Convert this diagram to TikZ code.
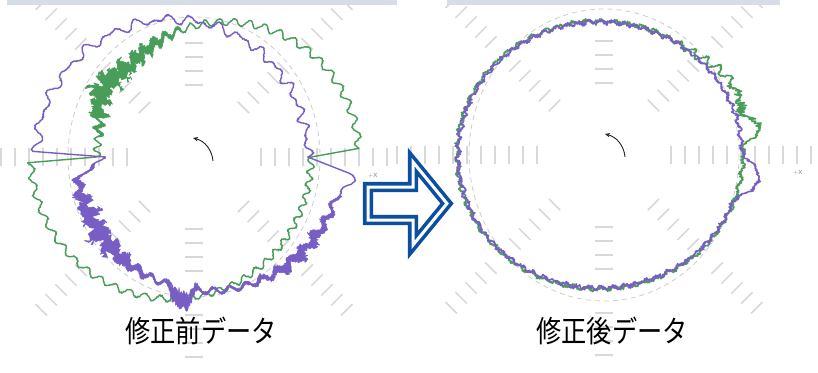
\documentclass[tikz,border=0pt]{standalone}
\usepackage{fontspec}
\usepackage{graphicx}
\newfontfamily\jpfont{Noto Sans CJK JP}
\usetikzlibrary{arrows.meta}
\definecolor{gcurve}{RGB}{72,158,88}
\definecolor{pcurve}{RGB}{120,94,196}
\definecolor{barc}{RGB}{214,221,231}
\definecolor{arrowblue}{RGB}{12,78,160}
\definecolor{tickc}{RGB}{216,216,216}
\tikzset{
  declare function={
    bump(\a,\c,\w)=max(0,1-((\a-\c)/\w)^2)^2;
    burst(\t)=0.7+0.3*sin(mod(\t,9)*40);
    gUc(\t)=131+34*cos(\t)+10*bump(\t,145,20)+3.5*sin(mod(\t,6)*60);
    gU(\t)=gUc(\t)+rand*(0.8+5*bump(\t,130,36));
    gW(\t)=2+16*bump(\t,140,30)*burst(\t)+5*bump(\t,112,16);
    gD(\t)=140-23*cos(\t)+3*sin(mod(\t,6)*60)+rand*0.8;
    pU(\t)=136-22*cos(\t)+3*sin(mod(\t,11)*360/11)+2.5*sin(mod(\t,7)*360/7)+rand*0.8;
    pDc(\t)=133+15*cos(\t)-26*bump(\t,180,12)+14*bump(\t,265,6)+12*bump(\t,352,8)+3*sin(mod(\t,7)*360/7);
    pD(\t)=pDc(\t)+rand*(0.8+4*bump(\t,222,40)+3*bump(\t,312,30));
    pW(\t)=2+14*bump(\t,218,36)*burst(\t)+9*bump(\t,265,9)+7*bump(\t,318,28)*burst(\t);
    baseR(\t)=138.5-4*cos(\t)+4.5*cos(2*\t);
    gR(\t)=baseR(\t)+9*bump(\t,28,22)+19*bump(\t,10,7)+(1.4+3.5*bump(\t,40,25))*sin(mod(\t,6)*60)+rand*(1.6+4*bump(\t,18,14));
    pR(\t)=baseR(\t)-1+19*bump(\t,-9,11)+1.4*sin(mod(\t,5)*72)+rand*1.8;
  },
  tickmark/.style={draw=tickc, line width=1.5pt},
  refcircle/.style={draw=gray!40, line width=0.8pt, dash pattern=on 5pt off 4pt},
  gline/.style={draw=gcurve, line width=1.4pt, line join=round},
  pline/.style={draw=pcurve, line width=1.4pt, line join=round},
  gband/.style={fill=gcurve, draw=gcurve, line width=0.6pt, line join=round},
  pband/.style={fill=pcurve, draw=pcurve, line width=0.6pt, line join=round},
  rotarrow/.style={draw=black!85, line width=0.9pt, -{Stealth[length=5pt,width=4.5pt]}},
  topbar/.style={fill=barc, draw=none},
  label/.style={font=\jpfont\fontsize{30}{30}\selectfont, inner sep=0pt},
  axislabel/.style={font=\sffamily\fontsize{6}{6}\selectfont, text=gray, inner sep=0pt},
  blockarrow/.style={draw=arrowblue, line width=3.6pt, double=white, double distance=3pt, line join=miter},
}
\begin{document}
\begin{tikzpicture}[x=1pt, y=-1pt]
\useasboundingbox (0,0) rectangle (818,372);
\fill[white] (0,0) rectangle (818,372);
\pgfmathsetseed{7}

% ---------- left polar plot ----------
\begin{scope}[shift={(194,157)}]
  \foreach \a in {0,180}
    \foreach \r in {67,81,...,193}
      \draw[tickmark] (\a:\r) ++(\a+90:9) -- ++(\a-90:18);
  \foreach \a in {90,270}
    \foreach \r in {72,86,100,114,158,172,186,200}
      \draw[tickmark] (\a:\r) ++(\a+90:9) -- ++(\a-90:18);
  \foreach \a in {45,135,225,315}
    \foreach \r in {70,84,98,112,126,160,174,188,202,216}
      \draw[tickmark] (\a:\r) ++(\a+90:8) -- ++(\a-90:16);
  \draw[refcircle] (0,0) ellipse [x radius=126, y radius=140];
  % green trace
  \draw[gline] plot[domain=3:180, samples=709, variable=\t] ({-\t}:{gU(\t)})
            -- plot[domain=182:360, samples=713, variable=\t] ({-\t}:{gD(\t)}) -- cycle;
  \filldraw[gband] plot[domain=96:168, samples=217, variable=\t] ({-\t}:{gUc(\t)+gW(\t)*(0.3+0.7*rnd)})
            -- plot[domain=168:96, samples=217, variable=\t] ({-\t}:{gUc(\t)-gW(\t)*(0.3+0.7*rnd)}) -- cycle;
  % purple trace
  \draw[pline] plot[domain=0:178, samples=713, variable=\t] ({-\t}:{pU(\t)})
            -- plot[domain=180:354, samples=697, variable=\t] ({-\t}:{pD(\t)}) -- cycle;
  \filldraw[pband] plot[domain=184:345, samples=484, variable=\t] ({-\t}:{pDc(\t)+pW(\t)*(0.3+0.7*rnd)})
            -- plot[domain=345:184, samples=484, variable=\t] ({-\t}:{pDc(\t)-pW(\t)*(0.3+0.7*rnd)}) -- cycle;
\end{scope}
\coordinate (lat) at (213,161);
\coordinate (lah) at (193,138);
\draw[rotarrow] (lat) .. controls (212,150) and (205,141) .. (lah);
\node[axislabel] (lx) at (373,176) {+X};

% ---------- right polar plot ----------
\begin{scope}[shift={(604,155)}]
  \foreach \a in {0,180}
    \foreach \r in {67,81,...,207}
      \draw[tickmark] (\a:\r) ++(\a+90:9) -- ++(\a-90:18);
  \foreach \a in {90,270}
    \foreach \r in {72,86,100,114,158,172,186,200}
      \draw[tickmark] (\a:\r) ++(\a+90:9) -- ++(\a-90:18);
  \foreach \a in {45,135,225,315}
    \foreach \r in {70,84,98,112,126,160,174,188,202,216}
      \draw[tickmark] (\a:\r) ++(\a+90:8) -- ++(\a-90:16);
  \draw[refcircle] (0,0) ellipse [x radius=135, y radius=146];
  \draw[gline, line width=1.6pt] plot[domain=-180:180, samples=1441, variable=\t] ({-\t}:{gR(\t)}) -- cycle;
  \draw[pline, line width=1.6pt] plot[domain=-180:180, samples=1441, variable=\t] ({-\t}:{pR(\t)}) -- cycle;
\end{scope}
\coordinate (rat) at (625,157);
\coordinate (rah) at (605,134);
\draw[rotarrow] (rat) .. controls (624,146) and (617,137) .. (rah);
\node[axislabel] (rx) at (798,173) {+X};

% ---------- top bars ----------
\fill[topbar] (7,0) rectangle (397,5);
\fill[topbar] (447,0) rectangle (780,5);

% ---------- block arrow ----------
\draw[blockarrow] (368,187) -- (413,187) -- (413,162) -- (447,203.5) -- (413,245) -- (413,220) -- (368,220) -- cycle;

% ---------- labels ----------
\node[label] (lbefore) at (201,331) {\scalebox{0.84}[1]{修正前データ}};
\node[label] (lafter) at (612,331) {\scalebox{0.84}[1]{修正後データ}};
\end{tikzpicture}
\end{document}
